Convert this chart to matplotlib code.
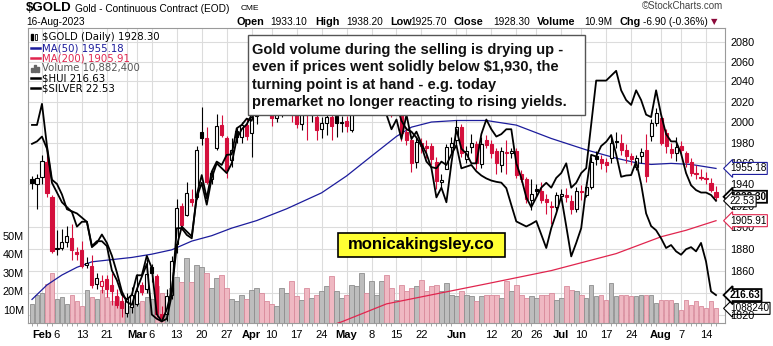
import numpy as np
import pandas as pd
import matplotlib
matplotlib.use('Agg')
import matplotlib.pyplot as plt
from matplotlib import transforms
from matplotlib.patches import Rectangle
from matplotlib.lines import Line2D
from matplotlib.ticker import NullLocator, NullFormatter, FixedLocator

plt.rcParams['font.family'] = ['Liberation Sans', 'DejaVu Sans']

# trading days shown on the chart
holidays = ['2023-02-20', '2023-04-07', '2023-05-29', '2023-06-19', '2023-07-04']
days = pd.bdate_range('2023-01-30', '2023-08-16')
days = days[~days.isin(pd.to_datetime(holidays))]

close_before = 1937.0
opens = [1945, 1940, 1947, 1961, 1928, 1880, 1881, 1886, 1890, 1877,
         1879, 1865, 1864, 1848, 1846, 1852, 1847, 1837, 1833, 1822,
         1827, 1830, 1847, 1843, 1863, 1855, 1821, 1821, 1838, 1884,
         1920, 1911, 1926, 1928, 1990, 1984, 1945, 1975, 1997, 1984,
         1963, 1991, 1985, 1997, 1989, 2006, 2039, 2036, 2025, 2004,
         2019, 2030, 2057, 2015, 1998, 2019, 2007, 2005, 1993, 1999,
         2005, 2006, 1999, 2001, 1992, 2023, 2040, 2050, 2025, 2029,
         2035, 2037, 2025, 2019, 2020, 1990, 1983, 1961, 1980, 1977,
         1977, 1961, 1942, 1955, 1976, 1983, 1995, 1964, 1976, 1979,
         1959, 1983, 1979, 1972, 1958, 1970, 1970, 1972, 1950, 1945,
         1925, 1936, 1934, 1926, 1920, 1919, 1929, 1930, 1924, 1917,
         1934, 1930, 1938, 1967, 1964, 1961, 1965, 1982, 1980, 1973,
         1967, 1957, 1967, 1973, 1986, 1999, 2004, 1989, 1974, 1970,
         1977, 1970, 1961, 1951, 1947, 1946, 1941, 1933.1]
highs = [1948, 1950, 1968, 1974, 1930, 1897, 1898, 1901, 1903, 1882,
         1887, 1872, 1874, 1858, 1856, 1856, 1858, 1843, 1840, 1840,
         1845, 1857, 1850, 1871, 1866, 1857, 1828, 1843, 1873, 1926,
         1922, 1942, 1936, 1977, 2015, 1995, 1955, 2008, 2007, 1986,
         1984, 1994, 2000, 2004, 2010, 2045, 2048, 2040, 2026, 2025,
         2035, 2063, 2062, 2018, 2020, 2023, 2025, 2024, 2005, 2012,
         2012, 2010, 2006, 2006, 2025, 2045, 2080, 2055, 2035, 2040,
         2045, 2040, 2030, 2030, 2022, 1995, 1986, 1985, 1984, 1983,
         1980, 1966, 1950, 1979, 1985, 2002, 1998, 1977, 1988, 1982,
         1985, 1987, 1983, 1975, 1976, 1983, 1975, 1975, 1954, 1947,
         1945, 1940, 1942, 1931, 1924, 1933, 1936, 1937, 1930, 1938,
         1939, 1942, 1966, 1972, 1968, 1965, 1985, 1990, 1988, 1979,
         1970, 1968, 1975, 1988, 2003, 2014, 2008, 1993, 1980, 1985,
         1982, 1972, 1965, 1958, 1955, 1952, 1946, 1938.2]
lows = [1936, 1917, 1940, 1928, 1876, 1874, 1879, 1882, 1870, 1870,
        1862, 1862, 1844, 1843, 1840, 1836, 1829, 1826, 1818, 1818,
        1822, 1828, 1838, 1840, 1850, 1818, 1815, 1815, 1834, 1876,
        1897, 1910, 1920, 1926, 1978, 1940, 1940, 1973, 1985, 1946,
        1957, 1980, 1980, 1983, 1966, 1998, 2025, 2015, 1996, 2000,
        2005, 2027, 2000, 1994, 1992, 1983, 2000, 1983, 1984, 1987,
        1983, 1985, 1990, 1990, 1990, 2015, 2035, 2010, 2015, 2020,
        2025, 2015, 2005, 2010, 1982, 1978, 1952, 1956, 1970, 1965,
        1958, 1936, 1938, 1958, 1970, 1978, 1966, 1960, 1970, 1955,
        1956, 1975, 1965, 1950, 1952, 1950, 1965, 1946, 1942, 1922,
        1916, 1928, 1922, 1912, 1903, 1916, 1925, 1923, 1912, 1914,
        1925, 1928, 1936, 1958, 1955, 1952, 1960, 1975, 1968, 1960,
        1958, 1954, 1960, 1942, 1982, 1996, 1978, 1970, 1965, 1962,
        1968, 1957, 1948, 1945, 1944, 1940, 1933, 1925.7]
closes = [1941, 1946, 1962, 1932, 1878, 1881, 1886, 1892, 1879, 1875,
          1864, 1867, 1847, 1853, 1851, 1843, 1842, 1829, 1826, 1835,
          1838, 1842, 1841, 1857, 1858, 1821, 1817, 1837, 1869, 1918,
          1902, 1932, 1923, 1973, 1984, 1942, 1951, 1996, 1987, 1954,
          1973, 1985, 1997, 1986, 2005, 2038, 2037, 2026, 2004, 2019,
          2030, 2055, 2015, 1998, 2019, 2007, 2020, 1992, 1999, 2005,
          1996, 1999, 2000, 1996, 2023, 2037, 2050, 2025, 2029, 2035,
          2037, 2025, 2019, 2022, 1989, 1983, 1960, 1981, 1977, 1975,
          1964, 1943, 1944, 1976, 1980, 1995, 1970, 1972, 1980, 1960,
          1979, 1978, 1970, 1960, 1972, 1971, 1972, 1949, 1945, 1926,
          1931, 1934, 1925, 1923, 1919, 1930, 1931, 1928, 1917, 1934,
          1933, 1938, 1961, 1964, 1960, 1958, 1980, 1981, 1973, 1967,
          1964, 1965, 1971, 1948, 1999, 2009, 1980, 1977, 1970, 1976,
          1973, 1961, 1951, 1950, 1946, 1945, 1935, 1928.3]
volume_m = [13, 18, 19, 24, 30, 16, 17, 13, 18, 15, 12, 21, 17, 16, 21, 17, 15, 17, 14, 12, 17,
            14, 15, 17, 16, 23, 19, 16, 22, 28, 25, 38, 25, 34, 33, 30, 22, 27, 29, 22, 16, 15, 18, 16, 21,
            22, 19, 15, 13, 12, 22, 19, 25.5, 17.4, 15.6, 21.9, 16.5, 18.3, 20.1, 22.8, 28.1, 20.1, 16.5,
            18.3, 23.6, 22.8, 30, 19.2, 25.5, 18.3, 25.8, 28.7, 21.9, 15.6, 23.6, 20.1, 21.9, 22.8, 26.3,
            20.1, 22.8, 23.6, 20.1, 24.5, 18.3, 17.4, 20.1, 18.3, 17.4, 14.7, 17.4, 18.3,
            18, 18.3, 16.5, 25.5, 20.1, 23.3, 18.3, 16.5, 17.4, 16.2, 18.3, 18.3, 19.2, 15.6, 16.2, 22.8,
            21, 20.1, 18.3, 16.5, 23.6, 17.4, 18.3, 15.6, 24.5, 17.4, 18.3, 18.3, 17.4, 17.4, 18.3, 18.3,
            18.3, 13.8, 15.6, 15.6, 15.6, 13.8, 10.2, 15.6, 12.9, 14.7, 12.0, 11.1, 14.7, 10.88]
silver = [23.7, 23.75, 23.85, 23.6, 22.9, 22.7, 22.5, 22.4, 22.3, 22.0, 22.1, 22.1, 21.6, 21.7,
          21.7, 21.6, 21.1, 20.9, 20.6, 20.5, 20.6, 21.0, 21.0, 21.4, 21.15, 20.2, 20.05, 20.3, 20.7,
          21.6, 22.0, 21.9, 21.8, 22.6, 22.9, 22.45, 23.0, 23.3, 23.2, 23.1, 23.3, 23.8, 24.0, 24.1,
          24.3, 24.9, 24.9, 24.8, 24.9, 25.0, 25.1, 25.5, 25.2, 25.0, 25.2, 25.1, 25.1, 25.0, 24.9,
          24.8, 24.8, 24.9, 24.9, 24.7, 25.2, 25.4, 25.6, 25.6, 25.4, 25.3, 25.1, 24.3, 24.0, 24.2,
          23.8, 24.3, 23.8, 23.95, 23.7, 23.5, 23.2, 22.6, 22.8, 22.5, 23.3, 24.0, 23.6, 23.5, 23.3,
          23.3, 23.9, 24.2, 24.0, 23.85, 23.9, 24.0, 24.0, 23.3, 23.0, 22.6, 22.4, 22.6, 22.8, 22.9,
          22.8, 23.0, 23.1, 23.3, 22.8, 22.9, 23.1, 23.2, 24.1, 25.0, 25.0, 25.0, 25.1, 25.2, 24.8,
          24.6, 24.5, 24.8, 24.6, 24.3, 24.25, 24.8, 24.3, 23.9, 23.75, 23.75, 23.5, 23.1, 22.85,
          22.75, 22.7, 22.7, 22.65, 22.53]
hui = [257, 257, 262, 252, 244, 243, 240.5, 237, 236.5, 236, 235, 234, 228, 229, 231, 229, 226,
       222, 217.5, 215, 214.3, 218, 221, 224, 212, 211, 210.4, 211, 216.7, 232.5, 232.5, 230.9,
       230.1, 240.4, 245.1, 239.6, 245.9, 248.3, 247.5, 249.9, 250, 256.2, 257, 258.5, 258, 262,
       264, 265, 263, 266, 267, 271, 267, 264, 266, 263, 265, 262, 262, 263, 262, 261, 263, 262,
       266, 269, 271, 268, 268, 266, 265, 261, 260, 262, 258, 256, 255.4, 254, 252, 248.3, 247,
       246.7, 248.3, 247.5, 250, 252.2, 246.7, 247.1, 247.5, 246, 245, 244.3, 243.8, 243.5, 243.3,
       242, 238, 234.1, 233.5, 232.9, 233.5, 234.2, 231, 227.8, 232.5, 236, 240, 233, 225.8, 229,
       232.5, 242, 249.9, 249.5, 252, 253, 254.6, 250, 244.7, 245, 245.1, 248.3, 243, 236, 233, 232,
       230.1, 227.8, 228.5, 227, 226.2, 227.5, 228, 227, 229, 224.6, 217.5, 216.63]
ma50_day = [0, 3, 6, 9, 12, 16, 20, 24, 28, 32, 36, 40, 45, 51, 58, 63, 68, 73, 76, 80, 85,
            91, 97, 104, 111, 117, 121, 124, 128, 132, 137]
ma50_val = [1834, 1847, 1856, 1863, 1868, 1870, 1872, 1875, 1879, 1887, 1892, 1899, 1906, 1917,
            1932, 1948, 1967, 1986, 1995, 2000, 2001.5, 2001.5, 1997, 1984, 1973, 1965, 1960.6,
            1959, 1960, 1959, 1955.18]
ma200_day = [52, 62, 71, 81, 91, 104, 117, 126, 131, 137]
ma200_val = [1799, 1814, 1830, 1839, 1848, 1860, 1875.5, 1891, 1897, 1905.91]

price_ticks = list(range(1820, 2081, 20))
vol_ticks = [10, 20, 30, 40, 50]
note_lines = ['Gold volume during the selling is drying up -',
              'even if prices went solidly below $1,930, the',
              'turning point is at hand - e.g. today',
              'premarket no longer reacting to rising yields.']

RED = '#d40f3c'
NAVY = '#1c1c9c'
MA_RED = '#e0254e'
GRID = '#dcdcdc'

W, H = 773, 346
def fx(px):
    return px / W
def fy(py):
    return 1 - py / H

fig = plt.figure(figsize=(W / 100, H / 100), dpi=100)
fig.patch.set_facecolor('white')
rect = [fx(28), fy(323), (725 - 28) / W, (323 - 28) / H]

n = len(closes)
x = np.arange(n)
op, hi, lo, cl = map(np.array, (opens, highs, lows, closes))
prev = np.r_[close_before, cl[:-1]]
up_day = cl >= prev

# volume panel (bottom layer, also carries grid and date axis)
ax_vol = fig.add_axes(rect, label='vol')
ax_vol.set_xlim(-0.8, 138.8)
ax_vol.set_ylim(3.0, 161.8)
ax = fig.add_axes(rect, label='price', sharex=ax_vol)
ax.set_yscale('log')
ax.set_ylim(1813, 2094)
ax.patch.set_alpha(0)

blend = transforms.blended_transform_factory(ax_vol.transAxes, ax.transData)
for p in price_ticks:
    ax_vol.plot([0, 1], [p, p], transform=blend, color=GRID, lw=0.8, zorder=0)

months = {'Feb': '2023-02-01', 'Mar': '2023-03-01', 'Apr': '2023-04-03', 'May': '2023-05-01',
          'Jun': '2023-06-01', 'Jul': '2023-07-03', 'Aug': '2023-08-01'}
day_ticks = ['2023-02-06', '2023-02-13', '2023-02-21', '2023-03-06', '2023-03-13', '2023-03-20',
             '2023-03-27', '2023-04-10', '2023-04-17', '2023-04-24', '2023-05-08', '2023-05-15',
             '2023-05-22', '2023-06-12', '2023-06-20', '2023-06-26', '2023-07-10', '2023-07-17',
             '2023-07-24', '2023-08-07', '2023-08-14']
tick_pos, tick_lab, tick_bold = [], [], []
for name, d in months.items():
    tick_pos.append(days.get_loc(pd.Timestamp(d))); tick_lab.append(name); tick_bold.append(True)
for d in day_ticks:
    tick_pos.append(days.get_loc(pd.Timestamp(d))); tick_lab.append(str(pd.Timestamp(d).day)); tick_bold.append(False)
grid_pos = tick_pos + [days.get_loc(pd.Timestamp('2023-02-27')), days.get_loc(pd.Timestamp('2023-06-05'))]
for g in grid_pos:
    ax_vol.axvline(g, color=GRID, lw=0.8, zorder=0)

vcol = np.where(up_day, '#bdbdbd', '#efb8c2')
vedge = np.where(up_day, '#8e8e8e', '#d98b9c')
ax_vol.bar(x, volume_m, 0.92, color=vcol, edgecolor=vedge, lw=0.6, zorder=1)

ax_vol.set_xticks(tick_pos)
ax_vol.set_xticklabels(tick_lab, fontsize=8)
for lab, b in zip(ax_vol.get_xticklabels(), tick_bold):
    if b:
        lab.set_fontweight('bold')
ax_vol.tick_params(axis='x', length=0, pad=5)
ax_vol.xaxis.set_minor_locator(FixedLocator(x))
ax_vol.tick_params(axis='x', which='minor', length=2, color='#999999', width=0.6)
ax_vol.set_yticks(vol_ticks)
ax_vol.set_yticklabels([f'{v}M' for v in vol_ticks], fontsize=7.8)
ax_vol.tick_params(axis='y', length=0, pad=3)
for s in ax_vol.spines.values():
    s.set_color('#9a9a9a'); s.set_linewidth(0.8)

# price panel
ax.plot(ma50_day, ma50_val, color=NAVY, lw=0.9, zorder=2)
ax.plot(ma200_day, ma200_val, color=MA_RED, lw=0.9, zorder=2)
ccol = np.where(up_day, 'black', RED)
hollow = cl >= op
ax.vlines(x, lo, hi, colors=ccol, lw=0.8, zorder=3)
body_b = np.minimum(op, cl)
body_h = np.maximum(np.abs(cl - op), 0.7)
face = np.where(hollow, 'white', ccol)
ax.bar(x, body_h, 0.62, bottom=body_b, color=face, edgecolor=ccol, lw=0.8, zorder=4)
ax.yaxis.tick_right()
ax.yaxis.set_minor_locator(NullLocator())
ax.yaxis.set_minor_formatter(NullFormatter())
ax.set_yticks(price_ticks)
ax.set_yticklabels([str(p) for p in price_ticks], fontsize=7.8)
ax.tick_params(axis='y', length=0, pad=4)
ax.tick_params(axis='x', which='both', bottom=False, labelbottom=False)
for s in ax.spines.values():
    s.set_visible(False)

# overlays
ax_s = fig.add_axes(rect, label='silver', sharex=ax_vol)
ax_s.set_ylim(20.02, 26.08)
ax_s.axis('off')
ax_s.plot(x, silver, color='black', lw=1.3)
ax_h = fig.add_axes(rect, label='hui', sharex=ax_vol)
ax_h.set_ylim(210, 280)
ax_h.axis('off')
ax_h.plot(x, hui, color='black', lw=1.3)

# value tags on the right
def tag(axis, val, text, ec, bold=False):
    tr = transforms.blended_transform_factory(axis.transAxes, axis.transData)
    axis.text(1.007, val, text, transform=tr, ha='left', va='center', fontsize=7.2,
              fontweight='bold' if bold else 'normal', clip_on=False, zorder=10,
              bbox=dict(boxstyle='larrow,pad=0.1', fc='white', ec=ec, lw=1.3 if bold else 0.8))

tag(ax_vol, volume_m[-1], '1088240', 'black')
tag(ax_h, hui[-1], '216.63', 'black', True)
tag(ax, ma200_val[-1], '1905.91', MA_RED)
tag(ax_s, silver[-1], '22.53', 'black')
tag(ax, closes[-1], '1928.30', 'black', True)
tag(ax, ma50_val[-1], '1955.18', NAVY)

# header
fig.text(fx(26), fy(8), '$GOLD', fontsize=9.5, fontweight='bold', va='center')
fig.text(fx(75), fy(8.5), 'Gold - Continuous Contract (EOD)', fontsize=7.3, va='center')
fig.text(fx(241), fy(9), 'CME', fontsize=6, va='center')
fig.text(fx(26), fy(22), '16-Aug-2023', fontsize=7.3, va='center')
fig.text(fx(723), fy(6), '\u00a9StockCharts.com', fontsize=7, va='center', ha='right', color='#444444')
pieces = [(237, 'Open', True), (270.5, '1933.10', False), (315, 'High', True), (346.5, '1938.20', False),
          (390, 'Low', True), (410, '1925.70', False), (453, 'Close', True), (493, '1928.30', False),
          (536.5, 'Volume', True), (584, '10.9M', False), (620, 'Chg', True), (643, '-6.90 (-0.36%)', False)]
for px, t, b in pieces:
    fig.text(fx(px), fy(22), t, fontsize=7.8 if b else 7.3, fontweight='bold' if b else 'normal', va='center')
fig.text(fx(711), fy(22), '\u25bc', fontsize=6, color='#8b0a3a', va='center', family='DejaVu Sans')

# legend inside the chart
leg = [(36.7, '$GOLD (Daily) 1928.30', 'black'), (48.3, 'MA(50) 1955.18', NAVY),
       (58.3, 'MA(200) 1905.91', MA_RED), (68.3, 'Volume 10,882,400', '#555555'),
       (78.3, '$HUI 216.63', 'black'), (88.3, '$SILVER 22.53', 'black')]
for i, (py, t, c) in enumerate(leg):
    fig.text(fx(41.5), fy(py), t, fontsize=7.3, color=c, va='center', family='DejaVu Sans')
    if i in (1, 2, 4, 5):
        fig.add_artist(Line2D([fx(31), fx(40)], [fy(py), fy(py)], color=c, lw=1.8))
fig.add_artist(Rectangle((fx(31), fy(40)), 2 / W, 6 / H, color='black'))
fig.add_artist(Rectangle((fx(35), fy(40)), 2 / W, 6 / H, fc='white', ec='black', lw=0.6))
for k, hh in enumerate([4, 6, 5]):
    fig.add_artist(Rectangle((fx(31 + 3 * k), fy(71.5)), 2 / W, hh / H, color='#666666'))

# comment box
fig.add_artist(Rectangle((fx(248), fy(115)), (585 - 248) / W, (115 - 35) / H,
                         fc='white', ec='#555555', lw=1.0))
for k, line in enumerate(note_lines):
    fig.text(fx(252), fy(50 + 17.3 * k), line, fontsize=10.5, fontweight='bold', va='center', color='#111111')

# site label
fig.add_artist(Rectangle((fx(338), fy(257)), (505 - 338) / W, (257 - 233) / H,
                         fc='#ffff33', ec='black', lw=1.2))
fig.text(fx(421.5), fy(245), 'monicakingsley.co', fontsize=12, fontweight='bold', ha='center', va='center')

fig.savefig('out.png', dpi=100)
